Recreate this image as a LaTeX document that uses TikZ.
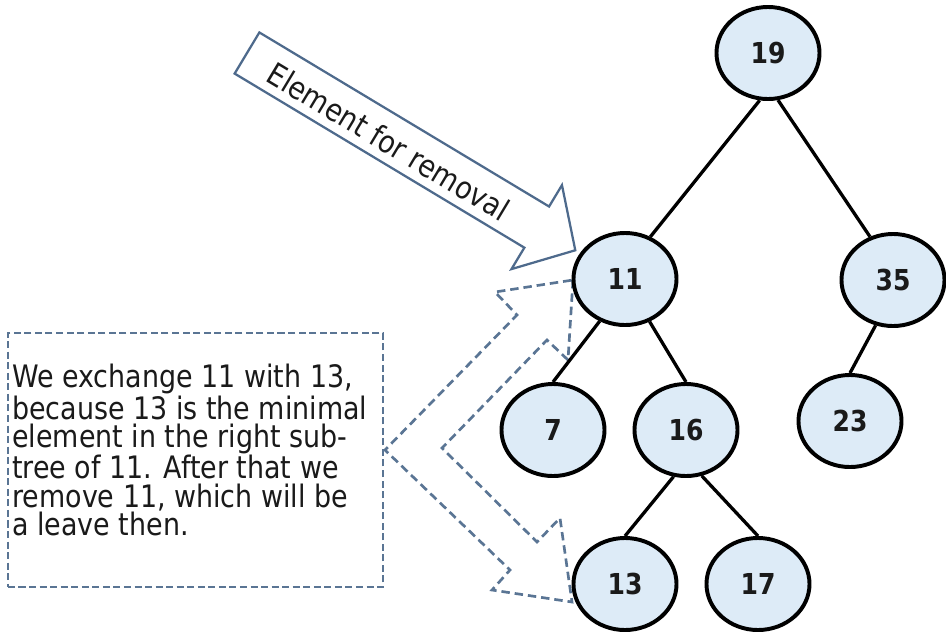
\documentclass[tikz,border=0pt]{standalone}
\usepackage{fontspec}
\setmainfont{DejaVu Sans}[FakeStretch=0.87]
\usepackage{tikz}
\usetikzlibrary{shapes.geometric}
\definecolor{keyfill}{HTML}{DDEBF7}
\definecolor{callout}{HTML}{4E6A8C}
\definecolor{dashblue}{HTML}{5A7594}
\definecolor{ink}{HTML}{1A1A1A}
\tikzset{
  key/.style      = {ellipse, draw=black, line width=2.8pt, fill=keyfill,
                     minimum width=2.575cm, minimum height=2.3cm, inner sep=0pt,
                     text=ink, font=\bfseries\fontsize{20.5pt}{21pt}\selectfont},
  link/.style     = {draw=black, line width=2.35pt},
  notebox/.style  = {rectangle, draw=dashblue, line width=1.5pt,
                     dash pattern=on 5pt off 2.5pt, fill=white,
                     minimum width=9.375cm, minimum height=6.35cm},
  notetext/.style = {align=left, inner sep=0pt, text=ink,
                     font=\fontsize{22pt}{20.1pt}\selectfont},
  swap/.style     = {draw=dashblue, line width=1.9pt, dash pattern=on 6pt off 3.5pt,
                     fill=white, line join=miter},
  pointer/.style  = {draw=callout, line width=1.6pt, fill=white, line join=miter},
}

\begin{document}
\begin{tikzpicture}[x=0.025cm, y=-0.025cm]
  \useasboundingbox (0,0) rectangle (946,633);

  % explanation box
  \node[notebox] (note) at (195.5,460) {};
  \node[notetext, anchor=north west] (notetext) at (12,364)
       {We exchange 11 with 13,\\ because 13 is the minimal\\ element in the right sub-\\
        tree of 11. After that we\\ remove 11, which will be\\ a leave then.};

  % bent double arrow: 11 <-> 13
  \draw[swap] (573,280) -- (568,360) -- (547,340) -- (442,448) -- (537,542)
    -- (560,518) -- (572,602) -- (492,590) -- (510,570) -- (385,450)
    -- (517,315) -- (495,292) -- cycle;

  % tree
  \node[key] (n19) at (768,53)  {19};
  \node[key] (n11) at (625,279) {11};
  \node[key] (n35) at (893,280) {35};
  \node[key] (n7)  at (553,430) {7};
  \node[key] (n16) at (686,430) {16};
  \node[key] (n23) at (850,421) {23};
  \node[key] (n13) at (625,584) {13};
  \node[key] (n17) at (758,584) {17};

  \draw[link] (n19.-100) -- (n11.59);
  \draw[link] (n19.-78)  -- (n35.118);
  \draw[link] (n11.-121) -- (n7.north);
  \draw[link] (n11.-60)  -- (n16.north);
  \draw[link] (n35.-111) -- (n23.north);
  \draw[link] (n16.-105) -- (n13.north);
  \draw[link] (n16.-71)  -- (n17.north);

  % block arrow pointing at 11
  \begin{scope}[shift={(247,53)}, rotate=-31]
    \draw[pointer] (0,-24) -- (338,-24) -- (338,-49) -- (383,0)
      -- (338,49) -- (338,24) -- (0,24) -- cycle;
    \node[rotate=-31, text=ink, font=\fontsize{22pt}{20.1pt}\selectfont]
         (removal) at (167,3) {Element for removal};
  \end{scope}
\end{tikzpicture}
\end{document}
